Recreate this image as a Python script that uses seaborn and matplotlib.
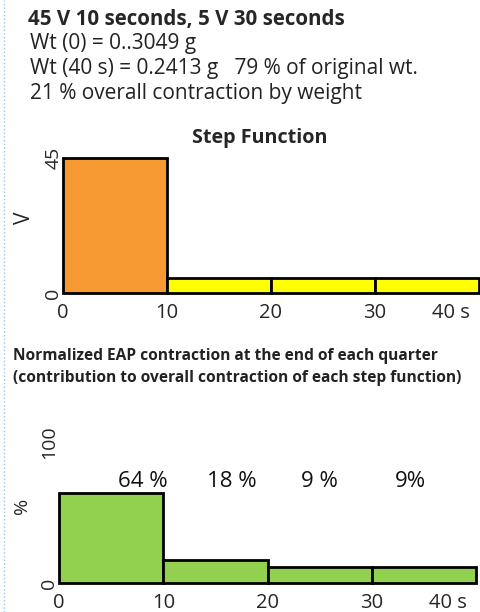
import matplotlib
matplotlib.use('Agg')
import matplotlib.pyplot as plt
import matplotlib.transforms as mtransforms
import seaborn as sns
import pandas as pd
from matplotlib.lines import Line2D

# step function: voltage held over each 10 s quarter
step_mid = [5, 15, 25, 35]
step_volts = [45, 5, 5, 5]
step_colors = ['#F79A32', '#FFFF00', '#FFFF00', '#FFFF00']

# normalized contraction at the end of each quarter
contr_pct = [64, 16, 11, 11]
contr_labels = ['64 %', '18 %', '9 %', '9%']

x_ticks = [0, 10, 20, 30, 40]
x_ticklabels = ['0', '10', '20', '30', '40 s']

header = ['45 V 10 seconds, 5 V 30 seconds',
          'Wt (0) = 0..3049 g',
          'Wt (40 s) = 0.2413 g   79 % of original wt.',
          '21 % overall contraction by weight']

sns.set_theme(style='white')
plt.rcParams['font.family'] = ['Open Sans', 'DejaVu Sans']

W, H = 480, 612
fig = plt.figure(figsize=(W / 100, H / 100), dpi=100)
fig.add_artist(Line2D([3.5 / W] * 2, [0, 1], color='#9DC3E6', lw=1, ls=':'))

# header text
fig.text(28 / W, 1 - 25 / H, header[0], fontsize=14.8, fontweight='bold', va='baseline')
for line, yb in zip(header[1:], [49, 74, 99]):
    fig.text(30 / W, 1 - yb / H, line, fontsize=15, va='baseline', color='#222222')

shift_left = mtransforms.ScaledTranslation(-0.09, 0, fig.dpi_scale_trans)

# ---- Step function ----
ax1 = fig.add_axes([63 / W, 1 - 293 / H, 416 / W, 135 / H])
step = pd.DataFrame({'t': step_mid, 'V': step_volts})
sns.barplot(data=step, x='t', y='V', hue='t', palette=step_colors, native_scale=True,
            width=1, saturation=1, edgecolor='black', linewidth=2, errorbar=None,
            legend=False, ax=ax1)
ax1.set_xlim(0, 40)
ax1.set_ylim(0, 45)
ax1.set_title('Step Function', fontsize=14.2, fontweight='bold', pad=11,
              x=(260 - 63) / 416)
ax1.set_xticks(x_ticks, x_ticklabels, fontsize=14.5)
ax1.set_yticks([0, 45], ['0', '45'], fontsize=14, rotation=90, va='center')
ax1.set_xlabel('')
ax1.set_ylabel('V', fontsize=15)
ax1.yaxis.set_label_coords(-0.068, 0.56)
ax1.tick_params(axis='x', length=0, pad=7.5)
ax1.tick_params(axis='y', length=0, pad=0.5)
last = ax1.get_xticklabels()[-1]
last.set_ha('right')
last.set_transform(last.get_transform() + shift_left)

# ---- Normalized contraction ----
fig.text(13 / W, 1 - 360 / H, 'Normalized EAP contraction at the end of each quarter',
         fontsize=11.2, fontweight='bold', va='baseline', color='#222222')
fig.text(13 / W, 1 - 382 / H, '(contribution to overall contraction of each step function)',
         fontsize=11.2, fontweight='bold', va='baseline', color='#222222')

ax2 = fig.add_axes([59 / W, 1 - 583 / H, 417 / W, 141 / H])
contr = pd.DataFrame({'t': step_mid, 'pct': contr_pct})
sns.barplot(data=contr, x='t', y='pct', color='#92D050', native_scale=True, width=1,
            edgecolor='black', linewidth=2, saturation=1, errorbar=None, ax=ax2)
ax2.set_xlim(0, 40)
ax2.set_ylim(0, 100)
for xt, lab in zip([8.0, 16.6, 25.0, 33.7], contr_labels):
    ax2.text(xt, 68, lab, fontsize=16, ha='center', va='baseline', color='#111111')
ax2.set_xticks(x_ticks, x_ticklabels, fontsize=14.5)
ax2.set_yticks([0, 100], ['0', '100'], fontsize=14, rotation=90, va='center')
ax2.set_xlabel('')
ax2.set_ylabel('%', fontsize=14)
ax2.yaxis.set_label_coords(-0.068, 0.55)
ax2.tick_params(axis='x', length=0, pad=7.5)
ax2.tick_params(axis='y', length=0, pad=0.5)
last = ax2.get_xticklabels()[-1]
last.set_ha('right')
last.set_transform(last.get_transform() + shift_left)

for ax in (ax1, ax2):
    for s in ax.spines.values():
        s.set_visible(False)
    for p in ax.patches:
        p.set_clip_on(False)

fig.savefig('out.png', dpi=100)
